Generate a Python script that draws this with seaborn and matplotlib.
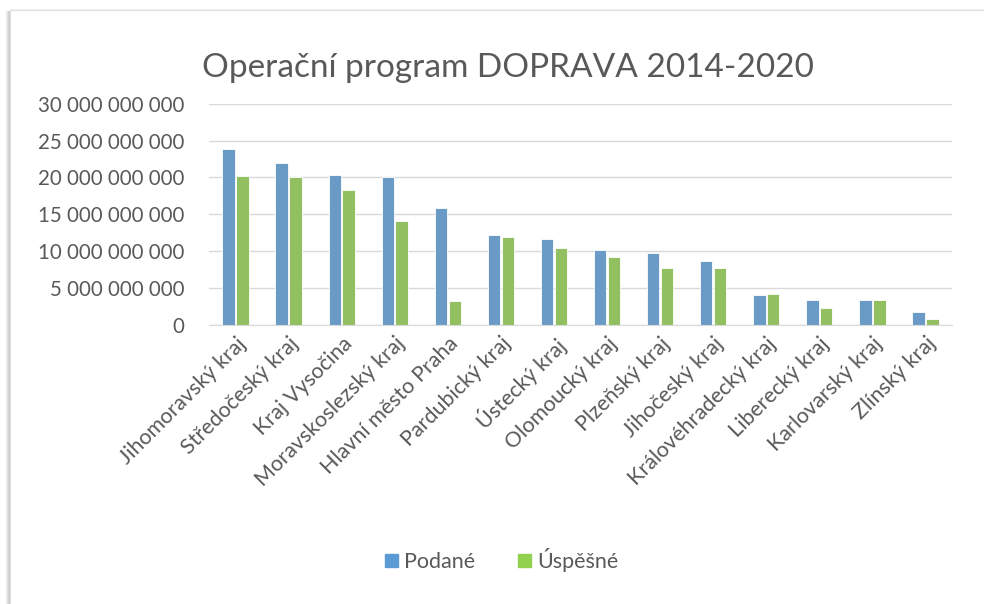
import pandas as pd
import matplotlib
matplotlib.use("Agg")
import matplotlib.pyplot as plt
import matplotlib.ticker as mticker
from matplotlib.patches import Rectangle
from matplotlib.lines import Line2D
import seaborn as sns

# data (CZK)
kraje = ["Jihomoravský kraj", "Středočeský kraj", "Kraj Vysočina",
         "Moravskoslezský kraj", "Hlavní město Praha", "Pardubický kraj",
         "Ústecký kraj", "Olomoucký kraj", "Plzeňský kraj", "Jihočeský kraj",
         "Královéhradecký kraj", "Liberecký kraj", "Karlovarský kraj",
         "Zlínský kraj"]
podane = [23.85e9, 21.95e9, 20.4e9, 20.0e9, 15.85e9, 12.2e9, 11.7e9,
          10.1e9, 9.8e9, 8.7e9, 4.0e9, 3.35e9, 3.35e9, 1.75e9]
uspesne = [20.2e9, 20.05e9, 18.3e9, 14.1e9, 3.3e9, 11.9e9, 10.5e9,
           9.25e9, 7.7e9, 7.7e9, 4.2e9, 2.25e9, 3.35e9, 0.85e9]
serie = ["Podané", "Úspěšné"]
barvy = ["#5B9BD5", "#92D050"]

df = pd.DataFrame({"kraj": kraje * 2,
                   "serie": [serie[0]] * len(kraje) + [serie[1]] * len(kraje),
                   "hodnota": podane + uspesne})

sns.set_style("white")
plt.rcParams["font.family"] = ["Lato", "DejaVu Sans"]
text_col = "#595959"

fig = plt.figure(figsize=(9.84, 6.04), dpi=100)

# ramecek grafu se stinem (jako v Excelu)
for i, a in enumerate([0.05, 0.08, 0.12, 0.18]):
    fig.add_artist(Line2D([(6 + i) / 984] * 2, [0, 1 - 11 / 604],
                          color="black", alpha=a, lw=1, zorder=-20))
fig.add_artist(Line2D([10 / 984, 1], [1 - 9 / 604] * 2,
                      color="black", alpha=0.06, lw=1, zorder=-20))
fig.add_artist(Rectangle((10 / 984, -0.1), 1.2, 1.1 - 10 / 604,
                         facecolor="white", edgecolor="#e0e0e0", lw=0.8,
                         zorder=-10))

ax = fig.add_axes([209 / 984, 1 - 325 / 604, (952 - 209) / 984, (325 - 103.7) / 604])
ax.patch.set_alpha(0)
sns.barplot(data=df, x="kraj", y="hodnota", hue="serie", palette=barvy,
            width=0.52, gap=0.1, edgecolor="white", linewidth=0.6,
            legend=False, ax=ax)

ax.set_ylim(0, 30e9)
ax.yaxis.set_major_locator(mticker.MultipleLocator(5e9))
ax.yaxis.set_major_formatter(mticker.FuncFormatter(
    lambda v, p: f"{int(v):,}".replace(",", " ")))
ax.grid(axis="y", color="#d9d9d9", lw=1)
ax.set_axisbelow(True)
for s in ["top", "right", "left"]:
    ax.spines[s].set_visible(False)
ax.spines["bottom"].set_color("#d9d9d9")
ax.set_xlabel("")
ax.set_ylabel("")
ax.tick_params(axis="y", length=0, pad=18, labelsize=14.8, labelcolor=text_col)
ax.tick_params(axis="x", length=0, pad=6, labelsize=15.5, labelcolor=text_col)
for lab in ax.get_xticklabels():
    lab.set_rotation(45)
    lab.set_ha("right")
    lab.set_va("top")
    lab.set_rotation_mode("anchor")

fig.text(0.516, 1 - 68 / 604, "Operační program DOPRAVA 2014-2020",
         ha="center", va="center", fontsize=24, color=text_col)

handles = [Rectangle((0, 0), 1, 1, color=c) for c in barvy]
fig.legend(handles, serie, loc="center", bbox_to_anchor=(0.51, 1 - 560 / 604),
           ncol=2, frameon=False, fontsize=15.5, labelcolor=text_col,
           handlelength=0.6, handleheight=0.6, handletextpad=0.3,
           columnspacing=2.0)

fig.savefig("out.png", dpi=100)
